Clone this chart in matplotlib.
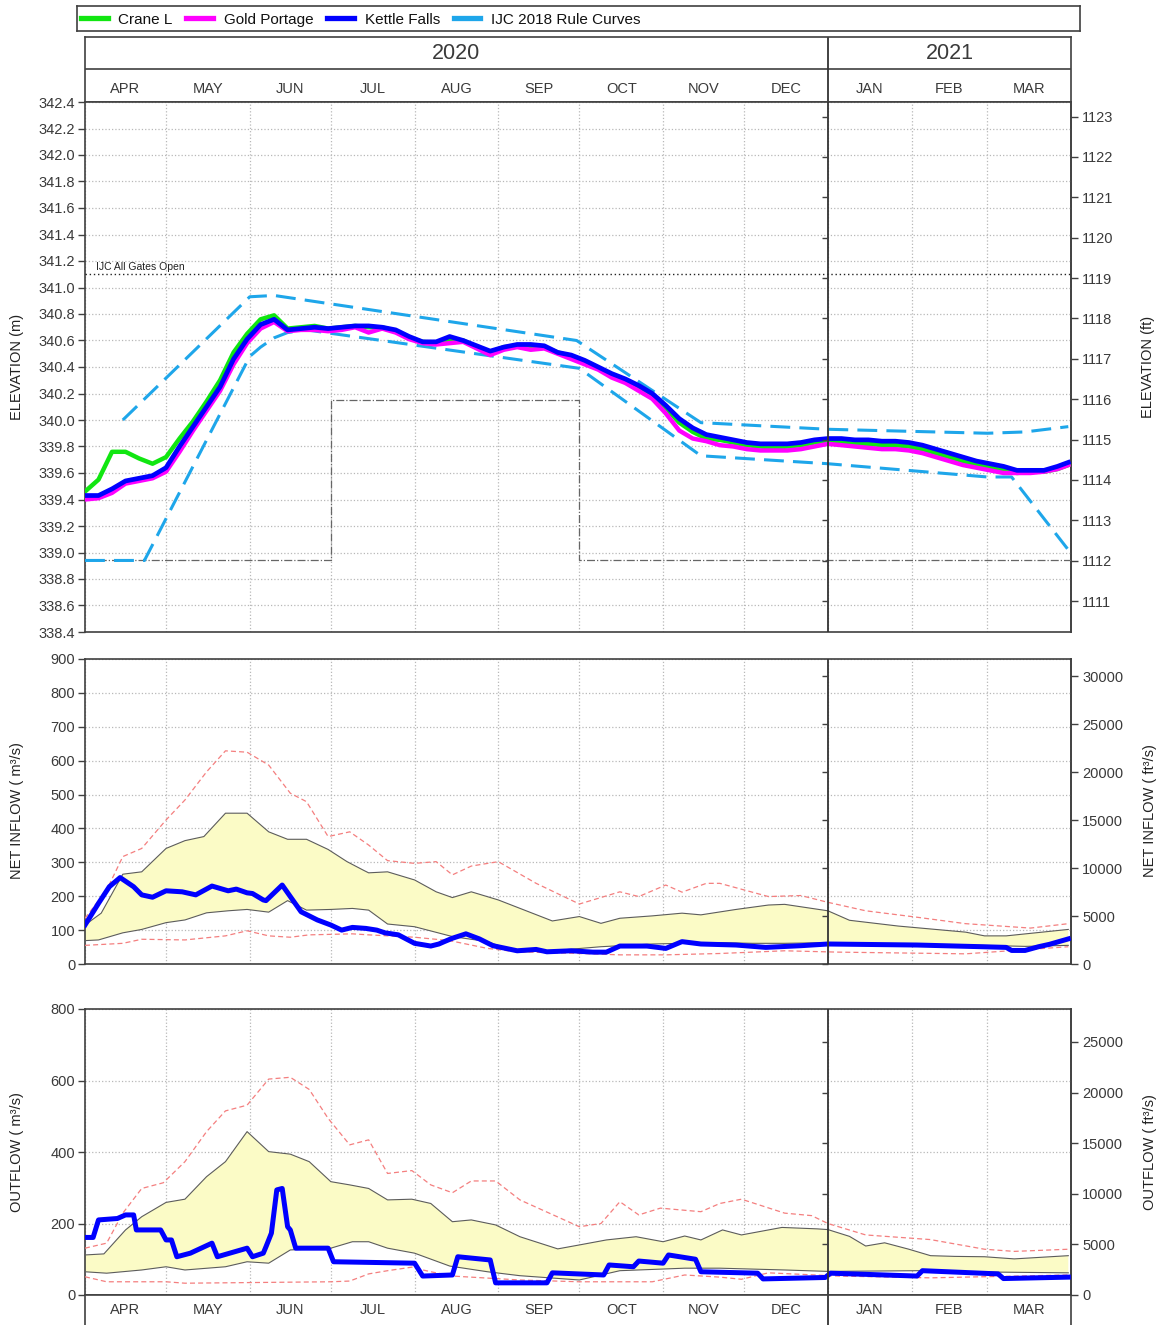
import numpy as np
import pandas as pd
import matplotlib
matplotlib.use('Agg')
import matplotlib.pyplot as plt
import matplotlib.dates as mdates
from matplotlib.lines import Line2D

plt.rcParams['font.family'] = ['Liberation Sans', 'DejaVu Sans']

# ------------------------------------------------------------------ data
month_labels = ['APR', 'MAY', 'JUN', 'JUL', 'AUG', 'SEP', 'OCT', 'NOV', 'DEC', 'JAN', 'FEB', 'MAR']
year_labels = ['2020', '2021']
legend_labels = ['Crane L', 'Gold Portage', 'Kettle Falls', 'IJC 2018 Rule Curves']

# elevation series (m), every 5 days from 2020-04-01, plus 2021-03-31
elev_dates = list(pd.date_range('2020-04-01', periods=73, freq='5D')) + [pd.Timestamp('2021-03-31')]
kettle_falls = [339.43, 339.43, 339.48, 339.54, 339.56, 339.58, 339.64, 339.80, 339.95, 340.10,
                340.25, 340.46, 340.61, 340.72, 340.76, 340.68, 340.69, 340.70, 340.69, 340.70,
                340.71, 340.71, 340.70, 340.68, 340.63, 340.59, 340.59, 340.63, 340.60, 340.56,
                340.52, 340.55, 340.57, 340.57, 340.56, 340.51, 340.49, 340.45, 340.40, 340.35,
                340.31, 340.26, 340.20, 340.11, 340.01, 339.94, 339.89, 339.87, 339.85, 339.83,
                339.82, 339.82, 339.82, 339.83, 339.85, 339.86, 339.86, 339.85, 339.85, 339.84,
                339.84, 339.83, 339.81, 339.78, 339.75, 339.72, 339.69, 339.67, 339.65, 339.62,
                339.62, 339.62, 339.65, 339.68]
gold_portage = [339.40, 339.41, 339.45, 339.52, 339.54, 339.56, 339.61, 339.76, 339.92, 340.07,
                340.22, 340.42, 340.58, 340.69, 340.74, 340.67, 340.68, 340.68, 340.67, 340.68,
                340.70, 340.66, 340.69, 340.66, 340.61, 340.58, 340.57, 340.58, 340.59, 340.54,
                340.49, 340.53, 340.55, 340.53, 340.54, 340.50, 340.46, 340.42, 340.38, 340.32,
                340.28, 340.22, 340.16, 340.05, 339.92, 339.86, 339.84, 339.81, 339.80, 339.78,
                339.77, 339.77, 339.77, 339.78, 339.80, 339.82, 339.81, 339.80, 339.79, 339.78,
                339.78, 339.77, 339.75, 339.72, 339.69, 339.66, 339.64, 339.62, 339.60, 339.60,
                339.60, 339.61, 339.63, 339.66]
crane_l = [339.46, 339.55, 339.76, 339.76, 339.71, 339.67, 339.72, 339.86, 339.99, 340.14,
           340.30, 340.51, 340.65, 340.76, 340.79, 340.69, 340.70, 340.71, 340.69, 340.70,
           340.71, 340.70, 340.70, 340.67, 340.62, 340.59, 340.58, 340.61, 340.60, 340.55,
           340.51, 340.55, 340.56, 340.56, 340.55, 340.51, 340.48, 340.44, 340.39, 340.34,
           340.30, 340.25, 340.18, 340.09, 339.98, 339.91, 339.86, 339.85, 339.83, 339.81,
           339.80, 339.79, 339.80, 339.81, 339.83, 339.84, 339.83, 339.82, 339.82, 339.81,
           339.81, 339.80, 339.78, 339.75, 339.72, 339.69, 339.66, 339.64, 339.62, 339.60,
           339.61, 339.61, 339.63, 339.66]

rule_upper_dates = ['2020-04-15', '2020-06-01', '2020-06-10', '2020-09-30', '2020-11-15',
                    '2021-01-01', '2021-03-01', '2021-03-15', '2021-03-31']
rule_upper = [340.00, 340.93, 340.94, 340.60, 339.98, 339.93, 339.90, 339.91, 339.95]
rule_lower_dates = ['2020-04-01', '2020-04-23', '2020-06-01', '2020-06-05', '2020-06-10', '2020-06-15',
                    '2020-06-22', '2020-10-01', '2020-11-15', '2021-01-01', '2021-03-01', '2021-03-10',
                    '2021-03-31']
rule_lower = [338.94, 338.94, 340.48, 340.55, 340.62, 340.66, 340.68, 340.39, 339.73, 339.67,
              339.57, 339.57, 339.02]

gates_open_level = 341.1
gates_open_label = 'IJC All Gates Open'
band_dates = ['2020-04-01', '2020-07-01', '2020-07-01', '2020-10-01', '2020-10-01', '2021-04-01']
band_levels = [338.94, 338.94, 340.15, 340.15, 338.94, 338.94]

# net inflow (m3/s)
inflow_kf_dates = ['2020-04-01', '2020-04-06', '2020-04-10', '2020-04-14', '2020-04-19', '2020-04-22',
                   '2020-04-26', '2020-05-01', '2020-05-07', '2020-05-12', '2020-05-18', '2020-05-24',
                   '2020-05-27', '2020-05-31', '2020-06-02', '2020-06-06', '2020-06-07', '2020-06-13',
                   '2020-06-16', '2020-06-20', '2020-06-26', '2020-07-01', '2020-07-05', '2020-07-09',
                   '2020-07-14', '2020-07-18', '2020-07-21', '2020-07-26', '2020-08-01', '2020-08-07',
                   '2020-08-10', '2020-08-12', '2020-08-15', '2020-08-20', '2020-08-25', '2020-08-30',
                   '2020-09-08', '2020-09-15', '2020-09-19', '2020-09-28', '2020-10-06', '2020-10-11',
                   '2020-10-16', '2020-10-26', '2020-11-02', '2020-11-08', '2020-11-15', '2020-11-28',
                   '2020-12-09', '2020-12-22', '2021-01-01', '2021-02-03', '2021-02-27', '2021-03-08',
                   '2021-03-10', '2021-03-15', '2021-03-20', '2021-03-24', '2021-03-31']
inflow_kf = [115, 179, 228, 255, 228, 204, 197, 216, 213, 204,
             230, 216, 221, 210, 208, 189, 187, 233, 199, 154,
             130, 115, 100, 108, 105, 100, 92, 86, 61, 53,
             59, 66, 76, 89, 74, 54, 39, 43, 36, 39,
             35, 35, 53, 53, 46, 66, 59, 56, 49, 54,
             59, 56, 51, 49, 40, 40, 51, 58, 74]
inflow_upper_dates = ['2020-04-01', '2020-04-07', '2020-04-15', '2020-04-22', '2020-05-01', '2020-05-08',
                      '2020-05-15', '2020-05-23', '2020-05-31', '2020-06-08', '2020-06-15', '2020-06-22',
                      '2020-06-30', '2020-07-07', '2020-07-13', '2020-07-15', '2020-07-22', '2020-08-01',
                      '2020-08-09', '2020-08-15', '2020-08-22', '2020-09-01', '2020-09-21', '2020-10-01',
                      '2020-10-09', '2020-10-16', '2020-10-28', '2020-11-08', '2020-11-15', '2020-11-28',
                      '2020-12-10', '2020-12-16', '2021-01-01', '2021-01-09', '2021-01-27', '2021-02-21',
                      '2021-02-28', '2021-03-08', '2021-03-31']
inflow_upper = [115, 150, 265, 272, 341, 364, 376, 445, 445, 390,
                368, 368, 338, 302, 277, 269, 272, 248, 213, 196,
                213, 189, 127, 140, 120, 135, 142, 150, 145, 161,
                174, 176, 157, 129, 112, 94, 83, 83, 102]
inflow_lower_dates = ['2020-04-01', '2020-04-06', '2020-04-15', '2020-04-22', '2020-05-01', '2020-05-08',
                      '2020-05-16', '2020-05-24', '2020-05-31', '2020-06-08', '2020-06-15', '2020-06-22',
                      '2020-07-01', '2020-07-09', '2020-07-15', '2020-07-22', '2020-08-01', '2020-08-15',
                      '2020-08-28', '2020-09-08', '2020-09-21', '2020-10-09', '2020-10-28', '2020-11-08',
                      '2020-11-22', '2020-12-04', '2020-12-16', '2021-01-01', '2021-01-27', '2021-02-27',
                      '2021-03-15', '2021-03-31']
inflow_lower = [69, 71, 92, 102, 122, 130, 151, 157, 161, 153,
                187, 159, 161, 164, 159, 118, 110, 81, 66, 35,
                39, 51, 59, 61, 63, 61, 61, 63, 58, 55,
                52, 55]
inflow_max_dates = ['2020-04-01', '2020-04-09', '2020-04-15', '2020-04-22', '2020-05-01', '2020-05-08',
                    '2020-05-16', '2020-05-23', '2020-05-31', '2020-06-08', '2020-06-16', '2020-06-22',
                    '2020-06-30', '2020-07-08', '2020-07-15', '2020-07-22', '2020-08-01', '2020-08-09',
                    '2020-08-15', '2020-08-22', '2020-09-01', '2020-09-15', '2020-10-01', '2020-10-16',
                    '2020-10-23', '2020-11-02', '2020-11-08', '2020-11-17', '2020-11-22', '2020-12-10',
                    '2020-12-22', '2021-01-01', '2021-01-15', '2021-02-03', '2021-02-21', '2021-03-17',
                    '2021-03-31']
inflow_max = [135, 218, 317, 341, 425, 484, 567, 629, 625, 587,
              504, 479, 376, 390, 351, 305, 297, 302, 263, 289,
              302, 238, 177, 213, 199, 233, 212, 238, 238, 199,
              202, 182, 157, 138, 119, 106, 119]
inflow_min_dates = ['2020-04-01', '2020-04-15', '2020-04-22', '2020-05-08', '2020-05-23', '2020-05-31',
                    '2020-06-08', '2020-06-16', '2020-06-23', '2020-07-09', '2020-07-15', '2020-08-01',
                    '2020-08-14', '2020-08-28', '2020-09-08', '2020-10-01', '2020-10-16', '2020-11-02',
                    '2020-11-22', '2020-12-16', '2021-01-05', '2021-02-21', '2021-03-31']
inflow_min = [55, 61, 73, 71, 83, 98, 83, 79, 86, 89,
              86, 79, 69, 46, 36, 31, 27, 27, 31, 39,
              35, 30, 51]

# outflow (m3/s)
outflow_kf_dates = ['2020-04-01', '2020-04-04', '2020-04-06', '2020-04-13', '2020-04-16', '2020-04-19',
                    '2020-04-20', '2020-04-29', '2020-05-01', '2020-05-03', '2020-05-05', '2020-05-10',
                    '2020-05-18', '2020-05-20', '2020-05-31', '2020-06-02', '2020-06-06', '2020-06-07',
                    '2020-06-09', '2020-06-11', '2020-06-13', '2020-06-15', '2020-06-16', '2020-06-18',
                    '2020-06-30', '2020-07-02', '2020-08-01', '2020-08-04', '2020-08-15', '2020-08-17',
                    '2020-08-29', '2020-08-31', '2020-09-19', '2020-09-21', '2020-10-10', '2020-10-12',
                    '2020-10-21', '2020-10-23', '2020-11-01', '2020-11-03', '2020-11-13', '2020-11-15',
                    '2020-12-06', '2020-12-08', '2020-12-31', '2021-01-02', '2021-02-03', '2021-02-05',
                    '2021-03-05', '2021-03-07', '2021-03-31']
outflow_kf = [161, 161, 210, 214, 224, 224, 182, 182, 154, 154,
              107, 117, 145, 107, 131, 107, 117, 135, 173, 294,
              298, 191, 182, 131, 131, 93, 89, 53, 56, 107,
              98, 34, 34, 62, 56, 84, 79, 95, 89, 112,
              100, 65, 61, 45, 49, 61, 53, 68, 59, 46,
              50]
outflow_upper_dates = ['2020-04-01', '2020-04-08', '2020-04-16', '2020-04-22', '2020-05-01', '2020-05-08',
                       '2020-05-16', '2020-05-23', '2020-05-31', '2020-06-08', '2020-06-16', '2020-06-23',
                       '2020-07-01', '2020-07-08', '2020-07-15', '2020-07-22', '2020-07-31', '2020-08-07',
                       '2020-08-15', '2020-08-22', '2020-08-31', '2020-09-09', '2020-09-23', '2020-10-01',
                       '2020-10-11', '2020-10-22', '2020-11-01', '2020-11-09', '2020-11-15', '2020-11-23',
                       '2020-11-30', '2020-12-15', '2020-12-28', '2021-01-01', '2021-01-09', '2021-01-15',
                       '2021-01-22', '2021-01-31', '2021-02-08', '2021-02-17', '2021-02-28', '2021-03-11',
                       '2021-03-31']
outflow_upper = [112, 115, 182, 219, 259, 268, 331, 373, 457, 401,
                 394, 373, 317, 308, 298, 266, 268, 256, 205, 210,
                 196, 163, 129, 140, 154, 163, 149, 165, 154, 182,
                 168, 189, 185, 183, 164, 137, 146, 128, 110, 108,
                 107, 101, 110]
outflow_lower_dates = ['2020-04-01', '2020-04-09', '2020-04-22', '2020-05-01', '2020-05-08', '2020-05-23',
                       '2020-05-31', '2020-06-08', '2020-06-16', '2020-07-01', '2020-07-09', '2020-07-15',
                       '2020-07-22', '2020-08-01', '2020-08-14', '2020-08-28', '2020-09-09', '2020-10-01',
                       '2020-10-16', '2020-11-09', '2020-11-22', '2020-12-16', '2021-01-01', '2021-02-03',
                       '2021-03-05', '2021-03-31']
outflow_lower = [65, 61, 70, 79, 70, 79, 93, 89, 126, 131,
                 149, 149, 131, 117, 81, 65, 54, 42, 68, 75,
                 75, 70, 66, 68, 64, 62]
outflow_max_dates = ['2020-04-01', '2020-04-09', '2020-04-15', '2020-04-22', '2020-04-30', '2020-05-08',
                     '2020-05-16', '2020-05-23', '2020-05-31', '2020-06-08', '2020-06-16', '2020-06-23',
                     '2020-06-30', '2020-07-08', '2020-07-15', '2020-07-22', '2020-07-31', '2020-08-03',
                     '2020-08-07', '2020-08-15', '2020-08-22', '2020-08-31', '2020-09-09', '2020-10-01',
                     '2020-10-09', '2020-10-16', '2020-10-23', '2020-10-31', '2020-11-15', '2020-11-22',
                     '2020-11-30', '2020-12-16', '2020-12-26', '2021-01-01', '2021-01-15', '2021-02-08',
                     '2021-02-28', '2021-03-11', '2021-03-31']
outflow_max = [131, 145, 229, 298, 314, 373, 457, 515, 531, 604,
               609, 575, 494, 420, 434, 340, 348, 331, 308, 286,
               319, 319, 266, 191, 200, 261, 224, 243, 233, 256,
               268, 229, 222, 200, 168, 155, 128, 122, 128]
outflow_min_dates = ['2020-04-01', '2020-04-09', '2020-05-01', '2020-05-08', '2020-07-01', '2020-07-08',
                     '2020-07-15', '2020-07-22', '2020-08-01', '2020-08-03', '2020-08-07', '2020-08-15',
                     '2020-09-09', '2020-10-01', '2020-10-28', '2020-11-09', '2020-11-22', '2020-11-30',
                     '2020-12-10', '2021-01-05', '2021-02-08', '2021-03-31']
outflow_min = [51, 37, 37, 33, 37, 39, 59, 68, 79, 72,
               65, 53, 42, 37, 37, 56, 50, 44, 62, 53,
               48, 56]

# ------------------------------------------------------------------ style
W, H = 1161, 1325
C_GREEN, C_MAG, C_BLUE, C_RULE = '#11e611', '#ff00ff', '#0000ff', '#1ea6ea'
C_SPINE, C_TXT, C_GRID = '#404040', '#3a3a3a', '#b8b8b8'
C_FILL, C_EDGE, C_RED = '#fbfbc6', '#5c5c5c', '#f47f7f'
FT = 0.3048
CFS = 35.3147

X0, X1, JAN1 = pd.Timestamp('2020-04-01'), pd.Timestamp('2021-04-01'), pd.Timestamp('2021-01-01')
month_starts = pd.date_range(X0, X1, freq='MS')
month_mids = [a + (b - a) / 2 for a, b in zip(month_starts[:-1], month_starts[1:])]


def dn(lst):
    return mdates.date2num(pd.to_datetime(lst))


def rect(x0, y0, x1, y1):
    return [x0 / W, 1 - y1 / H, (x1 - x0) / W, (y1 - y0) / H]


fig = plt.figure(figsize=(W / 100, H / 100), dpi=100)


def style_panel(ax):
    ax.set_xlim(X0, X1)
    ax.set_xticks(month_starts)
    ax.tick_params(axis='x', length=0, labelbottom=False)
    ax.set_axisbelow(True)
    ax.grid(True, ls=':', color=C_GRID, lw=0.9)
    for s in ax.spines.values():
        s.set_color(C_SPINE)
        s.set_linewidth(1.2)
    ax.tick_params(axis='y', direction='out', length=5, width=1, color=C_SPINE,
                   labelsize=10.5, labelcolor=C_TXT, pad=2)
    ax.axvline(JAN1, color='#333333', lw=1.3, zorder=6)


def right_axis(ax, fwd, inv, ticks):
    sec = ax.secondary_yaxis('right', functions=(fwd, inv))
    sec.set_yticks(ticks)
    sec.tick_params(direction='out', length=5, width=1, color=C_SPINE,
                    labelsize=10.5, labelcolor=C_TXT, pad=3)
    for s in sec.spines.values():
        s.set_color(C_SPINE)
        s.set_linewidth(1.2)
    ax.plot([JAN1] * len(ticks), inv(np.array(ticks, dtype=float)), ls='none', marker=0,
            ms=4, mew=1, color=C_SPINE, zorder=7, clip_on=False)
    return sec


# ------------------------------------------------------------------ legend box
ax_l = fig.add_axes(rect(77, 6, 1080, 31))
ax_l.set_xticks([])
ax_l.set_yticks([])
for s in ax_l.spines.values():
    s.set_color(C_SPINE)
    s.set_linewidth(1.2)
handles = [Line2D([], [], color=c, lw=3.8) for c in (C_GREEN, C_MAG, C_BLUE, C_RULE)]
ax_l.legend(handles, legend_labels, loc='center left', bbox_to_anchor=(0.0, 0.45), ncol=4,
            frameon=False, fontsize=11, handlelength=1.75, handletextpad=0.7,
            columnspacing=0.9, borderaxespad=0.15, borderpad=0.1, labelcolor='#111111')

# ------------------------------------------------------------------ header
ax_h = fig.add_axes(rect(85, 37, 1071, 102))
ax_h.set_xlim(X0, X1)
ax_h.set_ylim(0, 1)
ax_h.set_xticks([])
ax_h.set_yticks([])
for s in ax_h.spines.values():
    s.set_color(C_SPINE)
    s.set_linewidth(1.2)
ax_h.axhline((102 - 69) / 65, color=C_SPINE, lw=1.2)
ax_h.axvline(JAN1, color='#333333', lw=1.3)
ax_h.text(X0 + (JAN1 - X0) / 2, 0.75, year_labels[0], ha='center', va='center', fontsize=15.5, color=C_TXT)
ax_h.text(JAN1 + (X1 - JAN1) / 2, 0.75, year_labels[1], ha='center', va='center', fontsize=15.5, color=C_TXT)
for m, lab in zip(month_mids, month_labels):
    ax_h.text(m, 0.2, lab, ha='center', va='center', fontsize=10.5, color=C_TXT)

# ------------------------------------------------------------------ elevation panel
ax1 = fig.add_axes(rect(85, 102, 1071, 632))
style_panel(ax1)
ax1.set_ylim(338.4, 342.4)
yt = np.round(np.arange(338.4, 342.41, 0.2), 1)
ax1.set_yticks(yt)
ax1.set_yticklabels([f'{v:.1f}' for v in yt])
ax1.axhline(gates_open_level, color='#222222', ls=(0, (1, 2)), lw=1.0, zorder=3)
ax1.text(pd.Timestamp('2020-04-05'), gates_open_level + 0.02, gates_open_label, fontsize=7.5,
         color='#222222', ha='left', va='bottom')
ax1.plot(dn(band_dates), band_levels, color='#666666', ls='-.', lw=0.9, zorder=3)
ax1.plot(dn(rule_upper_dates), rule_upper, color=C_RULE, lw=2.2, dashes=(6.5, 3), zorder=4)
ax1.plot(dn(rule_lower_dates), rule_lower, color=C_RULE, lw=2.2, dashes=(6.5, 3), zorder=4)
ed = mdates.date2num(pd.to_datetime(elev_dates))
ax1.plot(ed, crane_l, color=C_GREEN, lw=3.2, zorder=5)
ax1.plot(ed, gold_portage, color=C_MAG, lw=3.2, zorder=5)
ax1.plot(ed, kettle_falls, color=C_BLUE, lw=3.4, zorder=5)
right_axis(ax1, lambda m: m / FT, lambda f: f * FT, list(range(1111, 1124)))


# ------------------------------------------------------------------ flow panels
def flow_panel(ax, kd, kv, ud, uv, ld, lv, xd, xv, nd, nv):
    style_panel(ax)
    u_x, l_x = dn(ud), dn(ld)
    ax.fill(np.concatenate([u_x, l_x[::-1]]), np.concatenate([uv, lv[::-1]]),
            color=C_FILL, lw=0, zorder=2)
    ax.plot(u_x, uv, color=C_EDGE, lw=0.8, zorder=3)
    ax.plot(l_x, lv, color=C_EDGE, lw=0.8, zorder=3)
    ax.plot(dn(xd), xv, color=C_RED, lw=0.9, dashes=(4, 2.5), zorder=3)
    ax.plot(dn(nd), nv, color=C_RED, lw=0.9, dashes=(4, 2.5), zorder=3)
    ax.plot(dn(kd), kv, color=C_BLUE, lw=3.6, zorder=5, solid_joinstyle='round')


ax2 = fig.add_axes(rect(85, 659, 1071, 964))
flow_panel(ax2, inflow_kf_dates, inflow_kf, inflow_upper_dates, inflow_upper,
           inflow_lower_dates, inflow_lower, inflow_max_dates, inflow_max,
           inflow_min_dates, inflow_min)
ax2.set_ylim(0, 900)
ax2.set_yticks(range(0, 901, 100))
right_axis(ax2, lambda q: q * CFS, lambda q: q / CFS, list(range(0, 30001, 5000)))

ax3 = fig.add_axes(rect(85, 1009, 1071, 1295))
flow_panel(ax3, outflow_kf_dates, outflow_kf, outflow_upper_dates, outflow_upper,
           outflow_lower_dates, outflow_lower, outflow_max_dates, outflow_max,
           outflow_min_dates, outflow_min)
ax3.set_ylim(0, 800)
ax3.set_yticks(range(0, 801, 200))
right_axis(ax3, lambda q: q * CFS, lambda q: q / CFS, list(range(0, 25001, 5000)))

# ------------------------------------------------------------------ footer month strip
ax_f = fig.add_axes(rect(85, 1295, 1071, 1345))
ax_f.set_xlim(X0, X1)
ax_f.set_ylim(0, 1)
ax_f.set_xticks([])
ax_f.set_yticks([])
for s in ax_f.spines.values():
    s.set_color(C_SPINE)
    s.set_linewidth(1.2)
ax_f.axvline(JAN1, color='#333333', lw=1.3)
for m, lab in zip(month_mids, month_labels):
    ax_f.text(m, (1345 - 1310) / 50, lab, ha='center', va='center', fontsize=10.5, color=C_TXT)

# ------------------------------------------------------------------ axis labels
def vlabel(x, y, s):
    fig.text(x / W, 1 - y / H, s, rotation=90, ha='center', va='center', fontsize=10.5, color='#222222')


vlabel(17, 367, 'ELEVATION (m)')
vlabel(1148, 367, 'ELEVATION (ft)')
vlabel(17, 811, 'NET INFLOW ( m³/s)')
vlabel(1150, 811, 'NET INFLOW ( ft³/s)')
vlabel(17, 1152, 'OUTFLOW ( m³/s)')
vlabel(1150, 1152, 'OUTFLOW ( ft³/s)')

fig.savefig('out.png', dpi=100)
